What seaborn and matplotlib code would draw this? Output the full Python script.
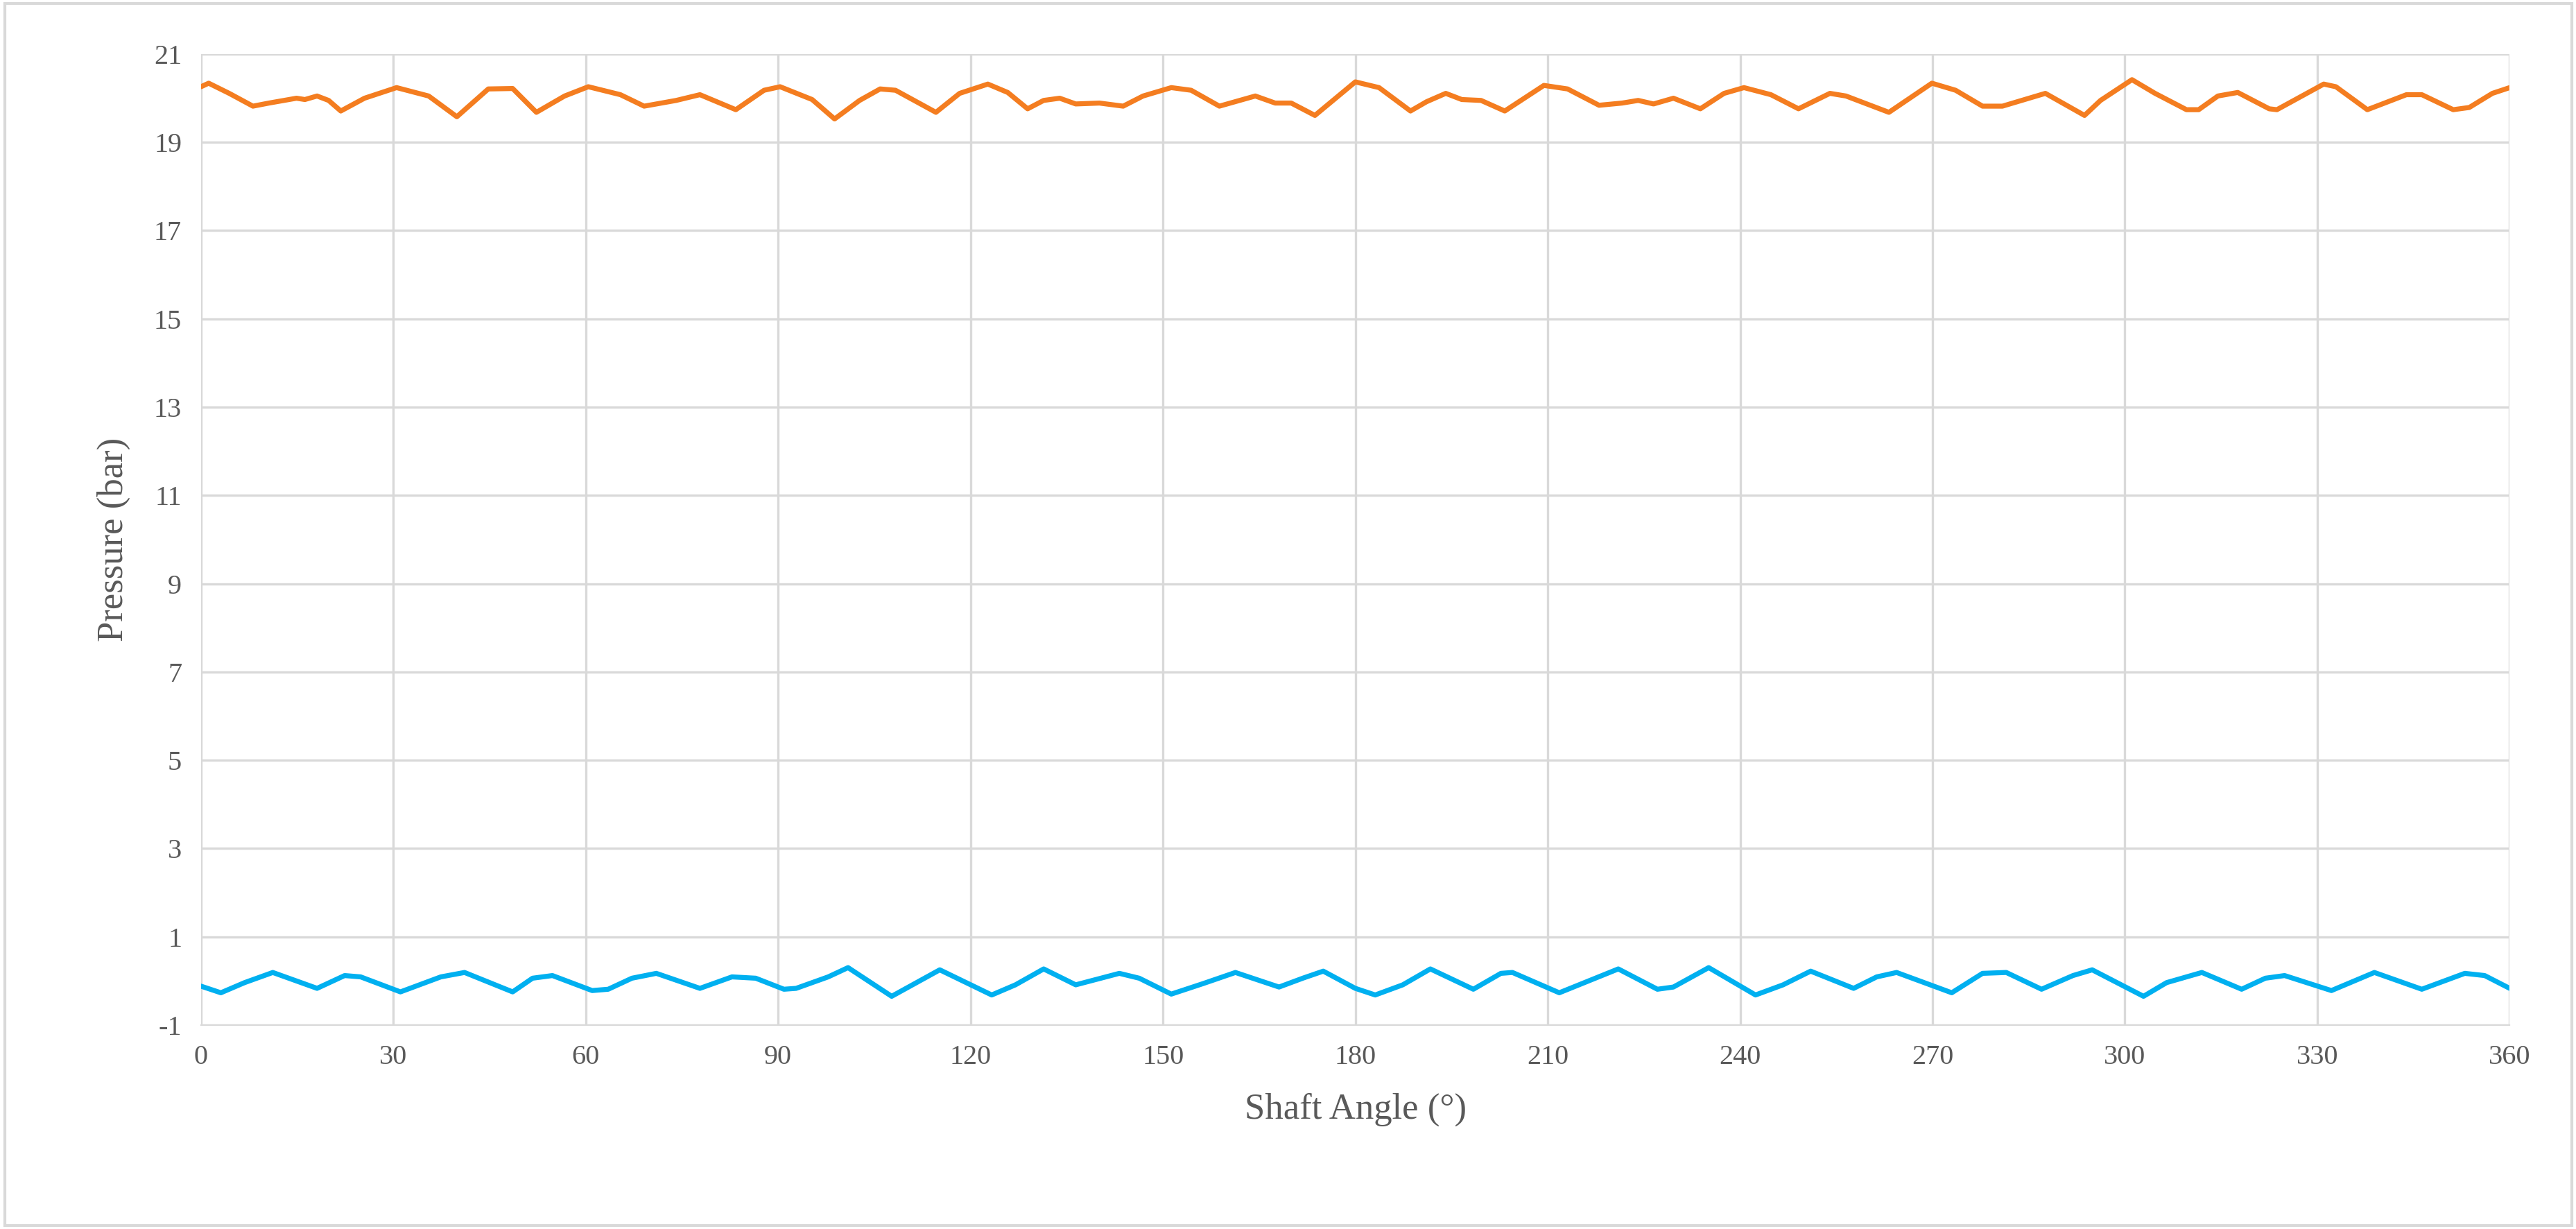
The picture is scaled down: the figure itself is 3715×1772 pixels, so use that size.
import matplotlib
matplotlib.use("Agg")
import matplotlib.pyplot as plt
import seaborn as sns
import pandas as pd

# Discharge-side pressure (orange)
disch_angle = [0, 1.2, 4.4, 8.1, 10.6, 14.9, 16.2, 18.1, 19.9, 21.8, 25.5, 30.5, 35.5, 39.9,
               44.8, 48.6, 52.3, 56.7, 60.4, 65.4, 69.1, 74.1, 77.8, 83.4, 87.8, 90.3, 95.3,
               98.8, 102.7, 105.9, 108.3, 114.6, 118.3, 122.7, 125.8, 128.9, 131.4, 133.9,
               136.4, 140.1, 143.8, 146.9, 151.3, 154.4, 158.8, 164.4, 167.5, 170.0, 173.7,
               180.0, 183.7, 188.6, 191.1, 194.1, 196.6, 199.6, 203.3, 209.4, 213.1, 218.0,
               221.6, 224.1, 226.5, 229.6, 233.8, 237.5, 240.6, 244.8, 249.1, 254.0, 256.5,
               263.2, 269.9, 273.6, 277.8, 280.9, 287.6, 293.7, 296.2, 301.1, 304.7, 309.6,
               311.5, 314.5, 317.6, 322.5, 323.7, 331.0, 332.9, 337.8, 343.9, 346.3, 351.2,
               353.7, 357.3, 360]
disch_p = [20.26, 20.34, 20.11, 19.82, 19.89, 20.0, 19.97, 20.05, 19.95, 19.71, 20.0, 20.24,
           20.05, 19.58, 20.21, 20.22, 19.68, 20.05, 20.26, 20.08, 19.82, 19.95, 20.08, 19.74,
           20.18, 20.26, 19.97, 19.53, 19.95, 20.21, 20.18, 19.68, 20.11, 20.32, 20.13, 19.76,
           19.95, 20.0, 19.87, 19.89, 19.82, 20.05, 20.24, 20.18, 19.82, 20.05, 19.89, 19.89,
           19.61, 20.37, 20.24, 19.71, 19.92, 20.11, 19.97, 19.95, 19.71, 20.29, 20.21, 19.84,
           19.89, 19.95, 19.87, 20.0, 19.76, 20.11, 20.24, 20.08, 19.76, 20.11, 20.05, 19.68,
           20.34, 20.18, 19.82, 19.82, 20.11, 19.61, 19.95, 20.42, 20.11, 19.74, 19.74, 20.05,
           20.13, 19.76, 19.74, 20.32, 20.26, 19.74, 20.08, 20.08, 19.74, 19.79, 20.11, 20.24]

# Suction-side pressure (blue)
suct_angle = [0, 3.1, 6.8, 11.2, 18.1, 22.4, 24.9, 31.1, 37.4, 41.1, 48.6, 51.7, 54.8, 61.0,
              63.5, 67.2, 71.0, 77.8, 82.8, 86.5, 90.9, 92.8, 97.8, 100.9, 107.7, 115.2, 123.3,
              127.0, 131.4, 136.4, 143.2, 146.3, 151.3, 156.3, 161.3, 168.1, 171.8, 175.0,
              180.0, 183.1, 187.4, 191.7, 198.4, 202.7, 204.5, 211.8, 221.0, 227.1, 229.6,
              235.1, 242.4, 246.7, 251.0, 257.7, 261.3, 264.4, 273.0, 277.8, 281.5, 287.0,
              291.9, 294.9, 302.9, 306.5, 312.0, 318.2, 321.9, 324.9, 332.2, 338.9, 346.3,
              353.0, 356.1, 360]
suct_p = [-0.12, -0.27, -0.04, 0.19, -0.17, 0.12, 0.09, -0.25, 0.09, 0.19, -0.25, 0.06, 0.12,
          -0.22, -0.19, 0.06, 0.17, -0.17, 0.09, 0.06, -0.19, -0.17, 0.09, 0.30, -0.35, 0.25,
          -0.32, -0.09, 0.27, -0.09, 0.17, 0.06, -0.30, -0.06, 0.19, -0.14, 0.06, 0.22,
          -0.17, -0.32, -0.09, 0.27, -0.19, 0.17, 0.19, -0.27, 0.27, -0.19, -0.14, 0.30,
          -0.32, -0.09, 0.22, -0.17, 0.09, 0.19, -0.27, 0.17, 0.19, -0.19, 0.12, 0.25,
          -0.35, -0.04, 0.19, -0.19, 0.06, 0.12, -0.22, 0.19, -0.19, 0.17, 0.12, -0.17]

x_ticks = list(range(0, 361, 30))
y_ticks = list(range(-1, 22, 2))

df_d = pd.DataFrame({"angle": disch_angle, "p": disch_p})
df_s = pd.DataFrame({"angle": suct_angle, "p": suct_p})

sns.set_style("white")
plt.rcParams["font.family"] = ["Liberation Serif", "DejaVu Serif"]
plt.rcParams["axes.unicode_minus"] = False

fig = plt.figure(figsize=(18.58, 8.86), dpi=200)
ax = fig.add_axes([0.078, 0.166, 0.896, 0.79])
sns.lineplot(data=df_d, x="angle", y="p", ax=ax, color="#F47D20", linewidth=2.6)
sns.lineplot(data=df_s, x="angle", y="p", ax=ax, color="#00B0F0", linewidth=2.6)

ax.set_xlim(0, 360)
ax.set_ylim(-1, 21)
ax.set_xticks(x_ticks)
ax.set_yticks(y_ticks)
ax.grid(True, color="#D9D9D9", linewidth=1.2)
for s in ax.spines.values():
    s.set_visible(False)
ax.spines["bottom"].set_visible(True)
ax.spines["bottom"].set_color("#D9D9D9")
ax.tick_params(labelsize=14.5, colors="#595959", length=0, pad=10)
ax.set_xlabel("Shaft Angle (°)", fontsize=19, color="#595959", labelpad=12)
ax.set_ylabel("Pressure (bar)", fontsize=19, color="#595959", labelpad=12)

# light frame around the whole chart
fig.patches.append(plt.Rectangle((0.002, 0.003), 0.996, 0.994, transform=fig.transFigure,
                                 fill=False, edgecolor="#D9D9D9", linewidth=1.5))

fig.savefig("out.png", dpi=200)
